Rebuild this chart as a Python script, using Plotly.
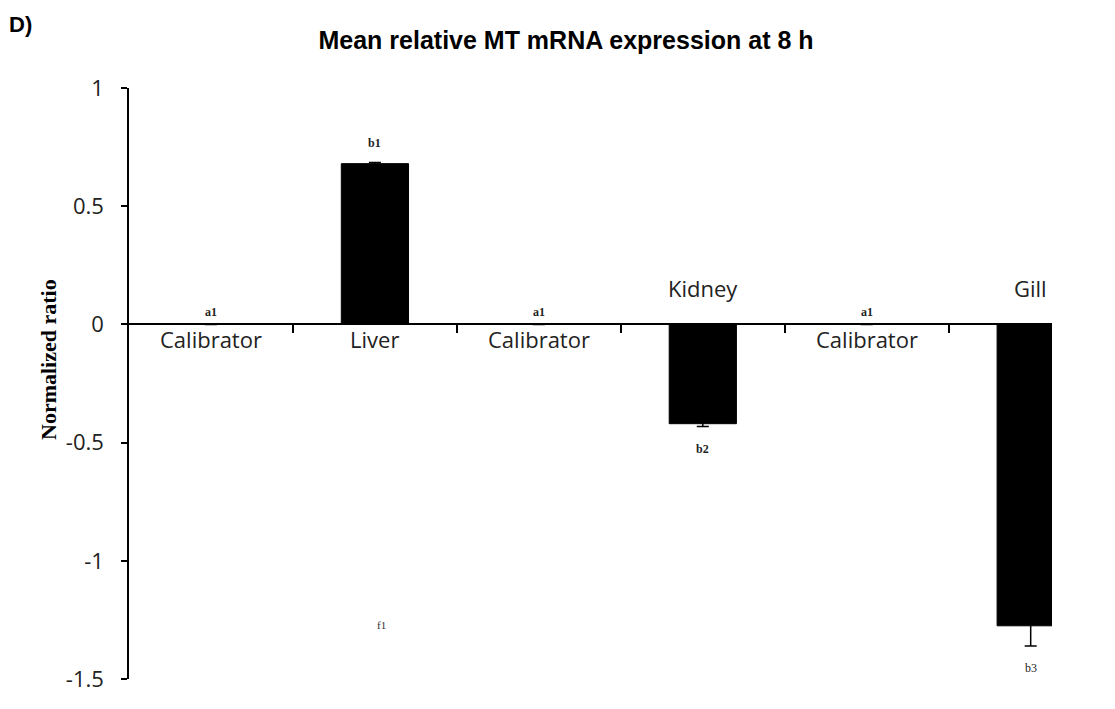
import plotly.graph_objects as go

categories = ["Calibrator", "Liver", "Calibrator", "Kidney", "Calibrator", "Gill"]
values = [0.0, 0.68, 0.0, -0.42, 0.0, -1.275]
errors = [0.0, 0.005, 0.0, 0.012, 0.0, 0.085]
sig_labels = ["a1", "b1", "a1", "b2", "a1", "b3"]
y_ticks = [1, 0.5, 0, -0.5, -1, -1.5]
y_tick_text = ["1", "0.5", "0", "-0.5", "-1", "-1.5"]
stray_label = "f1"
stray_pos = (1.04, -1.27)

x = list(range(len(categories)))

L, R, T, B = 121, 71, 80, 38
W, H = 1115, 709
PW, PH = W - L - R, H - T - B

fig = go.Figure()
fig.add_trace(go.Bar(
    x=x, y=values, width=0.41,
    marker=dict(color="black", line=dict(color="black", width=1)),
    error_y=dict(type="data", array=errors, visible=True, color="black",
                 thickness=1.5, width=6),
    showlegend=False,
))

cat_font = dict(family="Open Sans, Lato, sans-serif", size=22, color="#222")
sig_font = dict(family="Liberation Serif, serif", size=12, color="#222")

ann = []
for i, (c, v, e, s) in enumerate(zip(categories, values, errors, sig_labels)):
    if v < 0:
        ann.append(dict(x=i, y=0, text=c, showarrow=False, yshift=36, font=cat_font))
        ann.append(dict(x=i, y=v - e, text=("<b>%s</b>" % s) if s == "b2" else s,
                        showarrow=False, yshift=-22, font=sig_font))
    else:
        ann.append(dict(x=i, y=0, text=c, showarrow=False, yshift=-15, font=cat_font))
        ann.append(dict(x=i, y=v + e, text="<b>%s</b>" % s, showarrow=False,
                        yshift=12 if v == 0 else 19, font=sig_font))
ann.append(dict(x=stray_pos[0], y=stray_pos[1], text=stray_label, showarrow=False,
                font=dict(family="Liberation Serif, serif", size=11, color="#333")))
ann.append(dict(xref="paper", yref="paper", x=(-1 - L) / PW, y=1 + (T - 16) / PH,
                xanchor="left", yanchor="middle",
                text="<b>D)</b>", showarrow=False,
                font=dict(family="Liberation Sans, Arial, sans-serif", size=22, color="black")))
ann.append(dict(xref="paper", yref="paper", x=(40 - L) / PW, y=(H - B - 352) / PH,
                xanchor="center", yanchor="middle", textangle=-90,
                text="<b>Normalized ratio</b>", showarrow=False,
                font=dict(family="Liberation Serif, Times New Roman, serif",
                          size=22, color="black")))

fig.update_layout(
    width=W, height=H,
    margin=dict(l=L, r=R, t=T, b=B),
    paper_bgcolor="white", plot_bgcolor="white",
    title=dict(text="<b>Mean relative MT mRNA expression at 8 h</b>",
               x=558 / W, xanchor="center", y=1 - 32 / H, yanchor="middle",
               font=dict(family="Liberation Sans, Arial, sans-serif", size=25, color="black")),
    xaxis=dict(range=[-0.5, 5.13], showgrid=False, zeroline=False,
               tickvals=[0.5, 1.5, 2.5, 3.5, 4.5], ticks="outside", ticklen=8,
               tickwidth=1.5, tickcolor="black", showticklabels=False,
               showline=True, linecolor="black", linewidth=1.5,
               anchor="free", position=0.6),
    yaxis=dict(range=[-1.5, 1], showgrid=False, zeroline=False,
               tickvals=y_ticks, ticktext=y_tick_text, ticks="outside", ticklen=6,
               tickwidth=1.5, tickcolor="black", showline=True, linecolor="black",
               linewidth=1.5, ticklabelstandoff=13,
               tickfont=dict(family="Open Sans, Lato, sans-serif", size=22, color="#222")),
    annotations=ann,
)

fig.write_html("out.html")
